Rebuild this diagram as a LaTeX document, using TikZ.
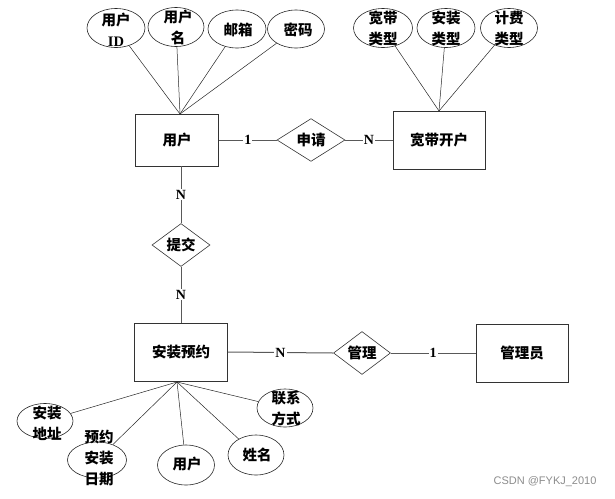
\documentclass[tikz,border=0pt]{standalone}
\usepackage{fontspec}
\setmainfont{Liberation Serif}
\setsansfont{Liberation Sans}
\newfontfamily\cjk{Noto Sans CJK SC}
\usetikzlibrary{shapes.geometric}
\begin{document}
\begin{tikzpicture}[x=1pt,y=-1pt,
  ent/.style={draw=black!80,line width=0.8pt,rectangle,inner sep=0pt,font=\cjk\bfseries\fontsize{14.5}{16}\selectfont},
  rel/.style={draw=black!80,line width=0.6pt,diamond,inner sep=0pt,font=\cjk\bfseries\fontsize{14.5}{16}\selectfont},
  attr/.style={draw=black!85,line width=0.6pt,ellipse,inner sep=0pt},
  atxt/.style={align=center,inner sep=0pt,font=\cjk\bfseries\fontsize{14.5}{21}\selectfont},
  alink/.style={draw=black!85,line width=0.5pt},
  rlink/.style={draw=black!65,line width=1pt},
  card/.style={fill=white,inner sep=1pt,font=\bfseries\fontsize{14}{16}\selectfont},
  wm/.style={font=\sffamily\fontsize{11}{12}\selectfont,text=black!45}
]
\useasboundingbox (0,0) rectangle (615,498);
% entities
\node[ent,minimum width=83pt,minimum height=52pt] (yh) at (177,140) {用户};
\node[ent,minimum width=92pt,minimum height=58pt] (kd) at (439,140) {宽带开户};
\node[ent,minimum width=93pt,minimum height=58pt] (az) at (181,352) {安装预约};
\node[ent,minimum width=92pt,minimum height=58pt] (gly) at (522,353) {管理员};
% relationships
\node[rel,minimum width=68pt,minimum height=42pt] (sq) at (311,140) {申请};
\node[rel,minimum width=58pt,minimum height=42pt] (tj) at (181,245) {提交};
\node[rel,minimum width=57pt,minimum height=42pt] (gl) at (362,353) {管理};
% relation links
\draw[rlink] (yh.east) -- node[card]{1} (sq.west);
\draw[rlink] (sq.east) -- node[card]{N} (kd.west);
\draw[rlink] (yh.south -| tj.north) -- node[card]{N} (tj.north);
\draw[rlink] (tj.south) -- node[card]{N} (az.north -| tj.south);
\draw[rlink] (az.east) -- node[card,pos=0.5]{N} (gl.west);
\draw[rlink] (gl.east) -- node[card,pos=0.5]{1} (gly.west);
% user attributes
\coordinate (cu) at (180,114);
\node[attr,minimum width=58pt,minimum height=39pt] (a1) at (116,28) {};
\node[atxt] at (116,30) {用户\\{\rmfamily ID}};
\node[attr,minimum width=56pt,minimum height=39pt] (a2) at (176,27) {};
\node[atxt] at (178,27) {用户\\名};
\node[attr,minimum width=58pt,minimum height=38pt] (a3) at (237,29) {};
\node[atxt] at (238,30) {邮箱};
\node[attr,minimum width=57pt,minimum height=38pt] (a4) at (296,29) {};
\node[atxt] at (298,30) {密码};
\foreach \a in {a1,a2,a3,a4} \draw[alink] (\a) -- (cu);
% broadband attributes
\coordinate (ck) at (439,111);
\node[attr,minimum width=59pt,minimum height=39pt] (b1) at (383,28) {};
\node[atxt] at (383,28) {宽带\\类型};
\node[attr,minimum width=58pt,minimum height=39pt] (b2) at (446,28) {};
\node[atxt] at (446,28) {安装\\类型};
\node[attr,minimum width=57pt,minimum height=39pt] (b3) at (509,28) {};
\node[atxt] at (509,28) {计费\\类型};
\foreach \a in {b1,b2,b3} \draw[alink] (\a) -- (ck);
% reservation attributes
\coordinate (ca) at (177,382);
\node[attr,minimum width=56pt,minimum height=35pt] (c1) at (45,421) {};
\node[atxt] at (47,423) {安装\\地址};
\node[attr,minimum width=59pt,minimum height=36pt] (c2) at (97,460) {};
\node[atxt] at (99,458) {预约\\安装\\日期};
\node[attr,minimum width=57pt,minimum height=40pt] (c3) at (186,465) {};
\node[atxt] at (187,464) {用户};
\node[attr,minimum width=56pt,minimum height=40pt] (c4) at (256,455) {};
\node[atxt] at (257,455) {姓名};
\node[attr,minimum width=56pt,minimum height=38pt] (c5) at (285,408) {};
\node[atxt] at (286,408) {联系\\方式};
\foreach \a in {c1,c2,c3,c4,c5} \draw[alink] (\a) -- (ca);
% watermark
\node[wm,anchor=east] (w) at (600,482) {CSDN @FYKJ\_2010};
\end{tikzpicture}
\end{document}
